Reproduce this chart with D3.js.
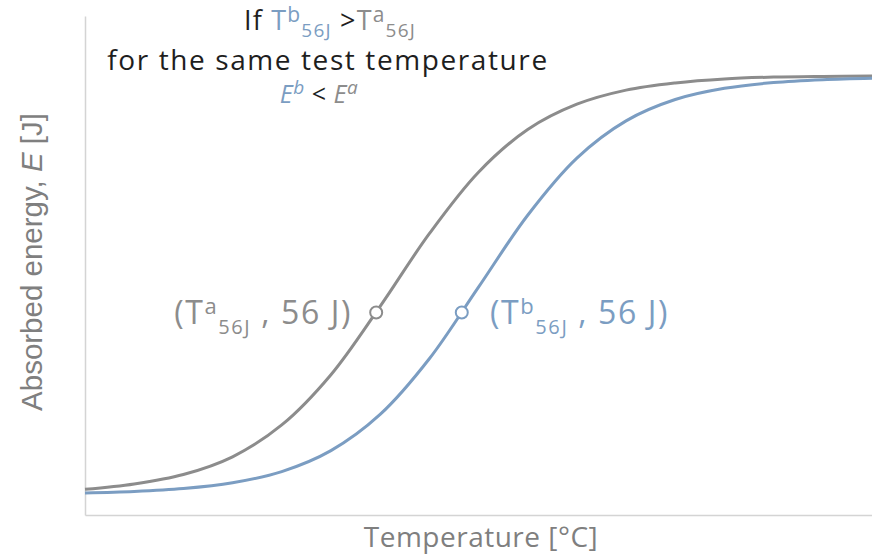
<!DOCTYPE html>
<html>
<head>
<meta charset="utf-8">
<script src="https://cdn.jsdelivr.net/npm/d3@7"></script>
<style>
  html, body { margin: 0; padding: 0; background: #fff; }
  svg { display: block; }
  text { font-family: "Open Sans", "Noto Sans", sans-serif; }
</style>
</head>
<body>
<svg id="chart" width="872" height="555"></svg>
<script>
// Temperature [°C] and absorbed energy [J] (schematic transition curves)
const temps   = [-100, -90, -80, -70, -60, -50, -40, -30, -20, -10, 0, 10, 20, 30, 40, 50, 60];
const energyA = [7.1, 8.6, 11.2, 16.1, 24.9, 38.8, 57.7, 77.8, 94.8, 106.6, 113.6, 117.5, 119.5, 120.6, 121.1, 121.3, 121.4];
const energyB = [6.1, 6.5, 7.3, 8.9, 12.0, 17.8, 27.8, 43.2, 63.0, 82.9, 98.7, 109.0, 114.9, 118.0, 119.6, 120.4, 120.8];
const markerT = [-40.8, -23.4];   // T56J for curve a and curve b
const markerE = 56;
const xDomain = [-100, 60];
const yDomain = [0, 138];
const colorA = "#8c8c8c";
const colorB = "#7b9dc2";

const svg = d3.select("#chart");
const x = d3.scaleLinear().domain(xDomain).range([85, 872]);
const y = d3.scaleLinear().domain(yDomain).range([515, 16]);

// axes (no ticks)
svg.append("g").attr("transform", "translate(85,0)")
  .call(d3.axisLeft(y).ticks(0).tickSize(0).tickFormat(""))
  .call(g => g.select(".domain").attr("stroke", "#d4d4d4").attr("stroke-width", 1.5));
svg.append("g").attr("transform", "translate(0,515)")
  .call(d3.axisBottom(x).ticks(0).tickSize(0).tickFormat(""))
  .call(g => g.select(".domain").attr("stroke", "#d4d4d4").attr("stroke-width", 1.5));

const line = d3.line().x(d => x(d[0])).y(d => y(d[1])).curve(d3.curveCatmullRom.alpha(0.5));
const dataA = temps.map((t, i) => [t, energyA[i]]);
const dataB = temps.map((t, i) => [t, energyB[i]]);

svg.append("path").datum(dataA).attr("d", line)
  .attr("fill", "none").attr("stroke", colorA).attr("stroke-width", 3);
svg.append("path").datum(dataB).attr("d", line)
  .attr("fill", "none").attr("stroke", colorB).attr("stroke-width", 3);

svg.selectAll("circle.m").data(markerT).join("circle")
  .attr("class", "m")
  .attr("cx", d => x(d)).attr("cy", y(markerE)).attr("r", 6)
  .attr("fill", "#fff").attr("stroke-width", 2)
  .attr("stroke", (d, i) => i === 0 ? colorA : colorB);

// helper to add rich text
function rich(parent, xPos, yPos, anchor, size, ls, parts) {
  const t = parent.append("text").attr("x", xPos).attr("y", yPos)
    .attr("text-anchor", anchor).attr("font-size", size).attr("letter-spacing", ls);
  parts.forEach(p => {
    const s = t.append("tspan").text(p.t).attr("fill", p.c);
    if (p.fs) s.attr("font-size", p.fs);
    if (p.dy) s.attr("dy", p.dy);
    if (p.it) s.attr("font-style", "italic");
    if (p.dx) s.attr("dx", p.dx);
  });
  return t;
}

const dark = "#1e1e1e";
// Title lines
rich(svg, 330, 30, "middle", 27, 1.2, [
  {t: "If ", c: dark},
  {t: "T", c: colorB},
  {t: "b", c: colorB, fs: 21, dy: -8},
  {t: "56J", c: colorB, fs: 19, dy: 15},
  {t: " >", c: dark, dy: -7},
  {t: "T", c: colorA},
  {t: "a", c: colorA, fs: 21, dy: -8},
  {t: "56J", c: colorA, fs: 19, dy: 15}
]);
svg.append("text").attr("x", 328).attr("y", 70).attr("text-anchor", "middle")
  .attr("font-size", 28).attr("fill", dark).attr("letter-spacing", 1.6)
  .text("for the same test temperature");
rich(svg, 319, 103, "middle", 25, 0.5, [
  {t: "E", c: colorB, it: true},
  {t: "b", c: colorB, it: true, fs: 19, dy: -9},
  {t: " < ", c: dark, dy: 9},
  {t: "E", c: colorA, it: true},
  {t: "a", c: colorA, it: true, fs: 19, dy: -9}
]);

// Point labels
rich(svg, 352, 324, "end", 32, 1.6, [
  {t: "(T", c: colorA},
  {t: "a", c: colorA, fs: 22, dy: -10},
  {t: "56J", c: colorA, fs: 20, dy: 20},
  {t: " , 56 J)", c: colorA, dy: -10}
]);
rich(svg, 490, 324, "start", 32, 1.6, [
  {t: "(T", c: colorB},
  {t: "b", c: colorB, fs: 22, dy: -10},
  {t: "56J", c: colorB, fs: 20, dy: 20},
  {t: " , 56 J)", c: colorB, dy: -10}
]);

// Axis titles
const yl = svg.append("text")
  .attr("transform", "translate(42,262) rotate(-90)")
  .attr("text-anchor", "middle").attr("font-size", 29.5).attr("fill", "#7f7f7f")
  .style("font-family", "'Liberation Sans', Arial, sans-serif");
yl.append("tspan").text("Absorbed energy, ");
yl.append("tspan").text("E").attr("font-style", "italic");
yl.append("tspan").text(" [J]");

svg.append("text").attr("x", 481).attr("y", 547).attr("text-anchor", "middle")
  .attr("font-size", 28).attr("letter-spacing", 0.5).attr("fill", "#7f7f7f").text("Temperature [°C]");
</script>
</body>
</html>
